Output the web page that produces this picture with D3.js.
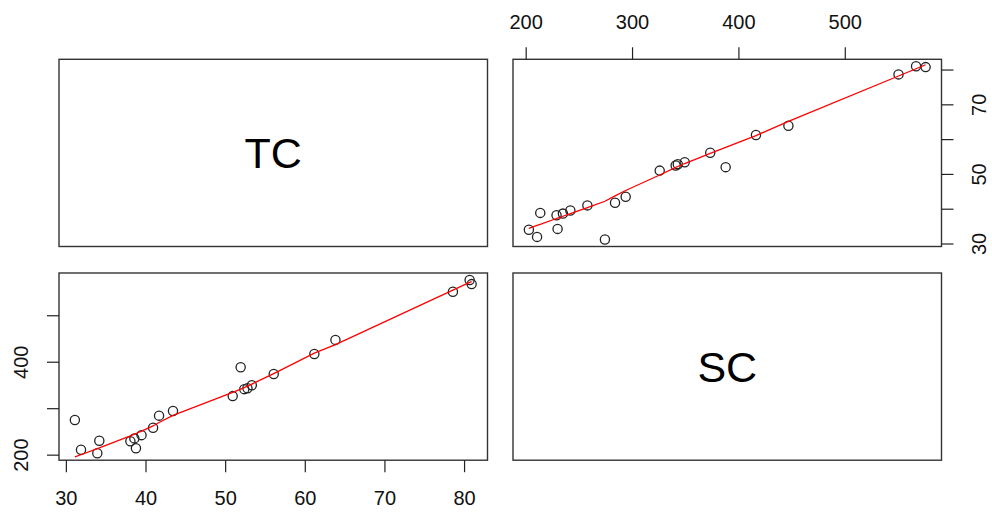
<!DOCTYPE html>
<html>
<head>
<meta charset="utf-8">
<script src="https://cdn.jsdelivr.net/npm/d3@7"></script>
<style>
  body { margin: 0; background: #fff; }
  svg { display: block; font-family: "Liberation Sans", Arial, sans-serif; }
</style>
</head>
<body>
<svg id="chart" width="992" height="514"></svg>
<script>
// variables shown on the diagonal
var varNames = ["TC", "SC"];
var TC = [274.5, 210.7, 203, 230, 229, 235, 213.7, 242, 258, 284, 294, 326, 388, 341, 343, 349.5, 373.5, 416.5, 447, 550.5, 576, 567];
var SC = [31.13, 31.9, 33.95, 34.2, 38.1, 38.6, 38.8, 39.5, 40.95, 41.7, 43.45, 50.95, 51.95, 52.4, 52.8, 53.35, 56.1, 61.2, 63.85, 78.6, 80.7, 80.95];
// axis ticks and the labels that R kept
var tcTicks = [200, 300, 400, 500];
var tcTopLabels = [200, 300, 400, 500];
var tcLeftLabels = [200, 400];
var scTicks = [30, 40, 50, 60, 70, 80];
var scBottomLabels = [30, 40, 50, 60, 70, 80];
var scRightLabels = [30, 50, 70];

var values = { TC: TC, SC: SC };

var svg = d3.select("#chart");
var padL = 59, padT = 59.3, pw = 428.5, ph = 187.2, gapX = 25.5, gapY = 26.5;

function px(c) { return padL + c * (pw + gapX); }
function py(r) { return padT + r * (ph + gapY); }

// R style range: data extent widened by 4% on each side
function rScale(name, range) {
    var ext = d3.extent(values[name]), r = ext[1] - ext[0];
    return d3.scaleLinear().domain([ext[0] - 0.04 * r, ext[1] + 0.04 * r]).range(range);
}

// port of R's clowess (f = 2/3, iter = 3)
function lowess(xIn, yIn, f, nsteps) {
    var idx = d3.range(xIn.length).sort(function (a, b) { return xIn[a] - xIn[b]; });
    var n = idx.length;
    var x = [0].concat(idx.map(function (i) { return xIn[i]; }));
    var y = [0].concat(idx.map(function (i) { return yIn[i]; }));
    var ys = new Array(n + 1).fill(0), rw = new Array(n + 1).fill(0),
        res = new Array(n + 1).fill(0), w = new Array(n + 1).fill(0);
    var delta = 0.01 * (x[n] - x[1]);
    var ns = Math.max(2, Math.min(n, Math.floor(f * n + 1e-7)));

    function lowest(xs, nleft, nright, userw) {
        var range = x[n] - x[1];
        var h = Math.max(xs - x[nleft], x[nright] - xs);
        var h9 = 0.999 * h, h1 = 0.001 * h;
        var a = 0, j = nleft, r;
        while (j <= n) {
            w[j] = 0;
            r = Math.abs(x[j] - xs);
            if (r <= h9) {
                w[j] = r <= h1 ? 1 : Math.pow(1 - Math.pow(r / h, 3), 3);
                if (userw) w[j] *= rw[j];
                a += w[j];
            } else if (x[j] > xs) break;
            j++;
        }
        var nrt = j - 1;
        if (a <= 0) return null;
        for (j = nleft; j <= nrt; j++) w[j] /= a;
        if (h > 0) {
            a = 0;
            for (j = nleft; j <= nrt; j++) a += w[j] * x[j];
            var b = xs - a, c = 0;
            for (j = nleft; j <= nrt; j++) c += w[j] * (x[j] - a) * (x[j] - a);
            if (Math.sqrt(c) > 0.001 * range) {
                b /= c;
                for (j = nleft; j <= nrt; j++) w[j] *= b * (x[j] - a) + 1;
            }
        }
        var s = 0;
        for (j = nleft; j <= nrt; j++) s += w[j] * y[j];
        return s;
    }

    for (var iter = 1; iter <= nsteps + 1; iter++) {
        var nleft = 1, nright = ns, last = 0, i = 1;
        for (;;) {
            if (nright < n) {
                var d1 = x[i] - x[nleft], d2 = x[nright + 1] - x[i];
                if (d1 > d2) { nleft++; nright++; continue; }
            }
            var v = lowest(x[i], nleft, nright, iter > 1);
            ys[i] = v === null ? y[i] : v;
            if (last < i - 1) {
                var denom = x[i] - x[last];
                for (var j = last + 1; j < i; j++) {
                    var alpha = (x[j] - x[last]) / denom;
                    ys[j] = alpha * ys[i] + (1 - alpha) * ys[last];
                }
            }
            last = i;
            var cut = x[last] + delta;
            for (i = last + 1; i <= n; i++) {
                if (x[i] > cut) break;
                if (x[i] === x[last]) { ys[i] = ys[last]; last = i; }
            }
            i = Math.max(last + 1, i - 1);
            if (last >= n) break;
        }
        var sc = 0;
        for (var k = 1; k <= n; k++) { res[k] = y[k] - ys[k]; sc += Math.abs(res[k]); }
        sc /= n;
        if (iter > nsteps) break;
        var sorted = res.slice(1).map(Math.abs).sort(function (a, b) { return a - b; });
        var m1 = Math.floor(n / 2);
        var cmad = n % 2 === 0 ? 3 * (sorted[m1] + sorted[n - m1 - 1]) : 6 * sorted[m1];
        if (cmad < 1e-7 * sc) break;
        var c9 = 0.999 * cmad, c1 = 0.001 * cmad;
        for (k = 1; k <= n; k++) {
            var rr = Math.abs(res[k]);
            rw[k] = rr <= c1 ? 1 : rr <= c9 ? Math.pow(1 - Math.pow(rr / cmad, 2), 2) : 0;
        }
    }
    return x.slice(1).map(function (xv, k) { return [xv, ys[k + 1]]; });
}

function styleAxis(g) {
    g.select(".domain").remove();
    g.selectAll(".tick line").attr("stroke", "#222").attr("stroke-width", 1.2);
    g.selectAll(".tick text").attr("fill", "#111").style("font-size", "20px")
        .style("font-family", '"Liberation Sans", Arial, sans-serif');
}
function fmt(labels) {
    return function (d) { return labels.indexOf(d) >= 0 ? d : ""; };
}

varNames.forEach(function (rowVar, r) {
    varNames.forEach(function (colVar, c) {
        var x0 = px(c), y0 = py(r);
        var g = svg.append("g");
        g.append("rect")
            .attr("x", x0).attr("y", y0).attr("width", pw).attr("height", ph)
            .attr("fill", "none").attr("stroke", "#333").attr("stroke-width", 1.4);

        if (r === c) {
            g.append("text")
                .attr("x", x0 + pw / 2).attr("y", y0 + ph / 2).attr("dy", "0.36em")
                .attr("text-anchor", "middle").style("font-size", "43px")
                .text(rowVar);
            return;
        }

        var xName = rowVar, yName = colVar;
        var x = rScale(xName, [x0, x0 + pw]);
        var y = rScale(yName, [y0 + ph, y0]);
        var xs = values[xName], ysv = values[yName];

        g.selectAll("circle")
            .data(d3.range(xs.length))
            .enter().append("circle")
            .attr("cx", function (i) { return x(xs[i]); })
            .attr("cy", function (i) { return y(ysv[i]); })
            .attr("r", 4.6)
            .attr("fill", "none").attr("stroke", "#222").attr("stroke-width", 1.3);

        g.append("path")
            .datum(lowess(xs, ysv, 2 / 3, 3))
            .attr("fill", "none").attr("stroke", "#ff0000").attr("stroke-width", 1.3)
            .attr("d", d3.line().x(function (d) { return x(d[0]); }).y(function (d) { return y(d[1]); }));

        if (r === 0) {
            // top axis (TC) and right axis (SC)
            svg.append("g").attr("transform", "translate(0," + y0 + ")")
                .call(d3.axisTop(x).tickValues(tcTicks).tickFormat(fmt(tcTopLabels)).tickSize(12))
                .call(styleAxis)
                .selectAll(".tick text").attr("y", -37).attr("dy", "0.35em");
            svg.append("g").attr("transform", "translate(" + (x0 + pw) + ",0)")
                .call(d3.axisRight(y).tickValues(scTicks).tickFormat(fmt(scRightLabels)).tickSize(12))
                .call(styleAxis)
                .selectAll(".tick text").attr("x", null).attr("dy", "0.35em")
                .attr("text-anchor", "middle").attr("transform", "translate(37,0) rotate(-90)");
        } else {
            // bottom axis (SC) and left axis (TC)
            svg.append("g").attr("transform", "translate(0," + (y0 + ph) + ")")
                .call(d3.axisBottom(x).tickValues(scTicks).tickFormat(fmt(scBottomLabels)).tickSize(12))
                .call(styleAxis)
                .selectAll(".tick text").attr("y", 38).attr("dy", "0.35em");
            svg.append("g").attr("transform", "translate(" + x0 + ",0)")
                .call(d3.axisLeft(y).tickValues(tcTicks).tickFormat(fmt(tcLeftLabels)).tickSize(12))
                .call(styleAxis)
                .selectAll(".tick text").attr("x", null).attr("dy", "0.35em")
                .attr("text-anchor", "middle").attr("transform", "translate(-38,0) rotate(-90)");
        }
    });
});
</script>
</body>
</html>
